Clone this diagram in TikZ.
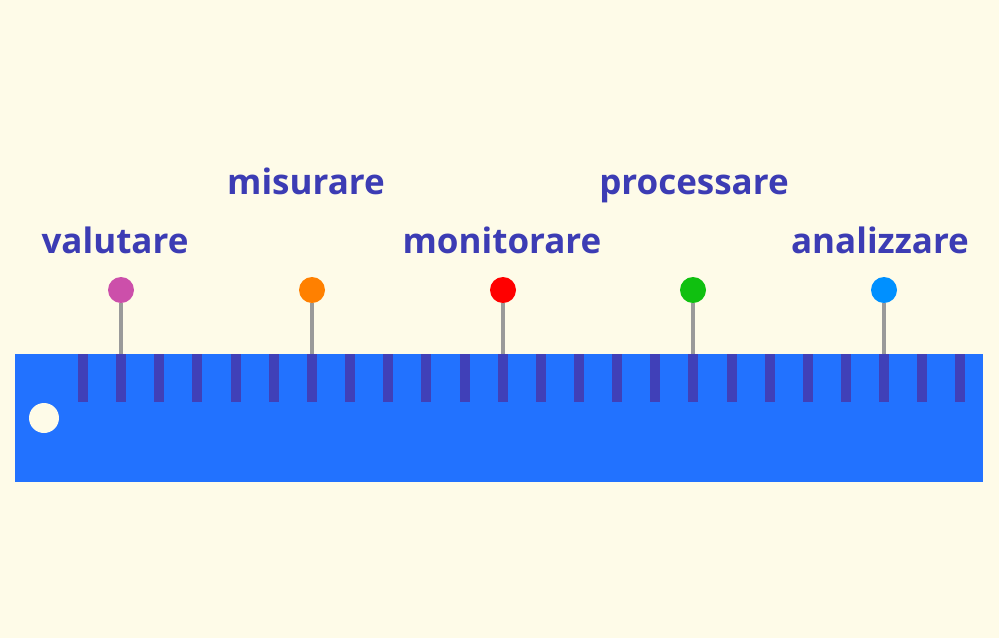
\documentclass[tikz,border=0pt]{standalone}
\usepackage{fontspec}
\setmainfont{Open Sans}
\definecolor{paper}{HTML}{FEFBE8}
\definecolor{rulerblue}{HTML}{2272FF}
\definecolor{tickblue}{HTML}{4040B8}
\definecolor{labelblue}{HTML}{3C3CB4}
\definecolor{stickgray}{HTML}{9A9A9A}
\definecolor{pinmagenta}{HTML}{CC4FAA}
\definecolor{pinorange}{HTML}{FF8000}
\definecolor{pinred}{HTML}{FF0000}
\definecolor{pingreen}{HTML}{10C010}
\definecolor{pinblue}{HTML}{0090FF}
\tikzset{
	pinhead/.style={circle, inner sep=0pt, minimum size=26pt},
	stick/.style={stickgray, line width=4pt},
	lbl/.style={anchor=base, text=labelblue, font=\bfseries\fontsize{35}{38}\selectfont, inner sep=0pt},
}
\begin{document}
\begin{tikzpicture}[x=1pt, y=-1pt]
	\fill[paper] (0,0) rectangle (999,638);
	% ruler
	\fill[rulerblue] (15,354) rectangle (983,482);
	\foreach \k in {0,...,23}
		\fill[tickblue] ({78+38.15*\k},354) rectangle ({88+38.15*\k},402);
	\fill[paper] (44,418) circle [radius=15pt];
	% pins
	\foreach \n/\x/\c in {1/121/pinmagenta, 2/312/pinorange, 3/503/pinred, 4/693/pingreen, 5/884/pinblue}{
		\coordinate (b\n) at (\x,354);
		\node[pinhead, fill=\c] (p\n) at (\x,290) {};
		\draw[stick] (b\n) -- (p\n.south);
	}
	% labels
	\node[lbl] (l1) at (115,253) {valutare};
	\node[lbl] (l2) at (306,194) {misurare};
	\node[lbl] (l3) at (502,253) {monitorare};
	\node[lbl] (l4) at (694,194) {processare};
	\node[lbl] (l5) at (880,253) {analizzare};
\end{tikzpicture}
\end{document}
